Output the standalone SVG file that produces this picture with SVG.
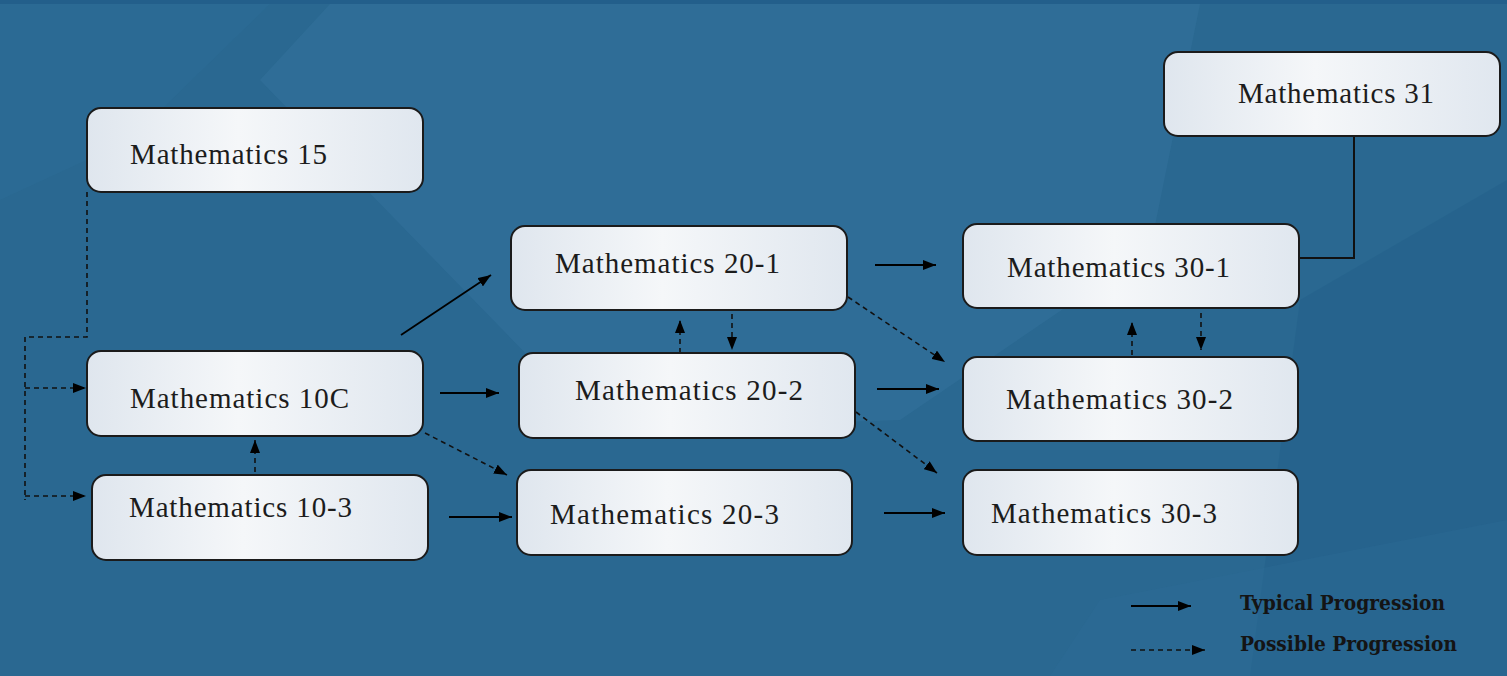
<svg xmlns="http://www.w3.org/2000/svg" width="1507" height="676" viewBox="0 0 1507 676">
<style>
.box{fill:url(#boxg);stroke:#1b1b1b;stroke-width:2}
.lbl{font-family:"Liberation Serif","DejaVu Serif",serif;font-size:29px;fill:#1c1c1c}
.leg{font-family:"DejaVu Serif","Liberation Serif",serif;font-size:20px;font-weight:bold;fill:#141414}
.sol{stroke:#000;stroke-width:1.8;fill:none;marker-end:url(#ah)}
.dsh{stroke:#111;stroke-width:1.6;fill:none;stroke-dasharray:5 4;marker-end:url(#ah)}
.dl{stroke:#111;stroke-width:1.6;fill:none;stroke-dasharray:5 4}
</style>
<defs>
<linearGradient id="boxg" x1="0" y1="0" x2="1" y2="0">
<stop offset="0" stop-color="#dfe6ee"/>
<stop offset="0.45" stop-color="#f5f7f9"/>
<stop offset="1" stop-color="#e0e7ef"/>
</linearGradient>
<marker id="ah" viewBox="0 0 13 10" refX="13" refY="5" markerWidth="13" markerHeight="10" markerUnits="userSpaceOnUse" orient="auto">
<path d="M0,0 L13,5 L0,10 Z" fill="#000"/>
</marker>
</defs>
<g id="background">
<rect x="0" y="0" width="1507" height="676" fill="#2a6891"/>
<polygon points="330,4 1200,4 1150,250 900,420 600,430 260,80" fill="#3a7ca6" opacity="0.3"/>
<polygon points="0,4 270,4 130,140 0,200" fill="#2e6f99" opacity="0.4"/>
<polygon points="1300,300 1507,180 1507,676 1250,676" fill="#1f5c87" opacity="0.35"/>
<polygon points="1100,600 1507,520 1507,676 1050,676" fill="#2f6e98" opacity="0.3"/>
<rect x="0" y="0" width="1507" height="4" fill="#235f8b"/>
</g>
<g id="connectors">
<path class="sol" d="M401,335 L491,275"/>
<path class="sol" d="M440,393 L499,393"/>
<path class="sol" d="M449,517 L512,517"/>
<path class="sol" d="M875,265 L936,265"/>
<path class="sol" d="M877,389 L939,389"/>
<path class="sol" d="M884,513 L945,513"/>
<path d="M1299,258 L1354,258 L1354,136" stroke="#111" stroke-width="2" fill="none"/>
<path class="dl" d="M87,192 L87,337 L25,337 L25,500"/>
<path class="dsh" d="M25,388 L86,388"/>
<path class="dsh" d="M25,496 L86,496"/>
<path class="dsh" d="M255,472 L255,440"/>
<path class="dsh" d="M425,433 L507,475"/>
<path class="dsh" d="M680,353 L680,320"/>
<path class="dsh" d="M732,314 L732,350"/>
<path class="dsh" d="M848,297 L945,362"/>
<path class="dsh" d="M856,412 L937,473"/>
<path class="dsh" d="M1132,355 L1132,322"/>
<path class="dsh" d="M1201,313 L1201,350"/>
</g>
<g id="n-math15"><rect class="box" x="87" y="108" width="336" height="84" rx="14"/><text class="lbl" x="130" y="164" textLength="197">Mathematics 15</text></g>
<g id="n-math10c"><rect class="box" x="87" y="351" width="336" height="85" rx="14"/><text class="lbl" x="130" y="408" textLength="219">Mathematics 10C</text></g>
<g id="n-math10-3"><rect class="box" x="92" y="475" width="336" height="85" rx="14"/><text class="lbl" x="129" y="517" textLength="223">Mathematics 10-3</text></g>
<g id="n-math20-1"><rect class="box" x="511" y="226" width="336" height="84" rx="14"/><text class="lbl" x="555" y="273" textLength="225">Mathematics 20-1</text></g>
<g id="n-math20-2"><rect class="box" x="519" y="353" width="336" height="85" rx="14"/><text class="lbl" x="575" y="400" textLength="228">Mathematics 20-2</text></g>
<g id="n-math20-3"><rect class="box" x="517" y="470" width="335" height="85" rx="14"/><text class="lbl" x="550" y="524" textLength="229">Mathematics 20-3</text></g>
<g id="n-math30-1"><rect class="box" x="963" y="224" width="336" height="84" rx="14"/><text class="lbl" x="1007" y="277" textLength="223">Mathematics 30-1</text></g>
<g id="n-math30-2"><rect class="box" x="963" y="357" width="335" height="84" rx="14"/><text class="lbl" x="1006" y="409" textLength="227">Mathematics 30-2</text></g>
<g id="n-math30-3"><rect class="box" x="963" y="470" width="335" height="85" rx="14"/><text class="lbl" x="991" y="523" textLength="226">Mathematics 30-3</text></g>
<g id="n-math31"><rect class="box" x="1164" y="52" width="336" height="84" rx="14"/><text class="lbl" x="1238" y="103" textLength="196">Mathematics 31</text></g>
<g id="legend">
<path class="sol" d="M1131,606 L1191,606"/>
<path class="dsh" d="M1131,650 L1205,650"/>
<text class="leg" x="1240" y="610" textLength="205" lengthAdjust="spacingAndGlyphs">Typical Progression</text>
<text class="leg" x="1240" y="651" textLength="217" lengthAdjust="spacingAndGlyphs">Possible  Progression</text>
</g>
</svg>
